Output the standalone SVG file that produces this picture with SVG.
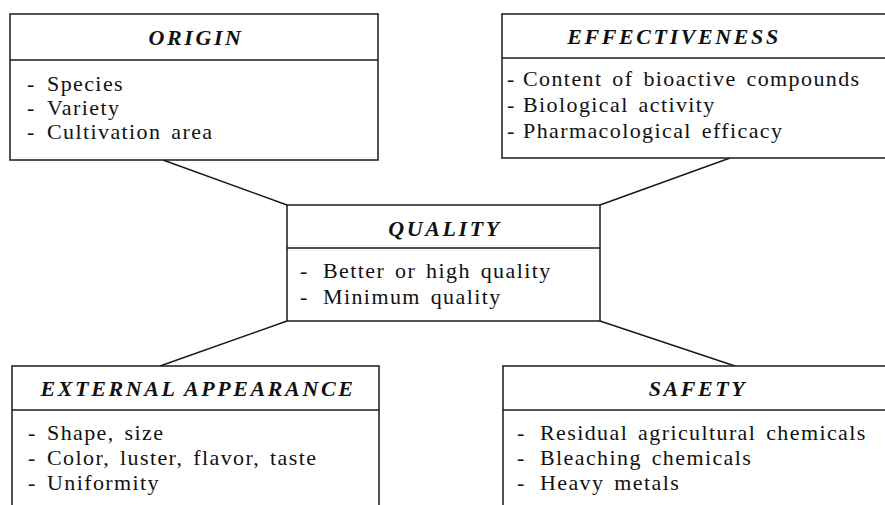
<svg xmlns="http://www.w3.org/2000/svg" width="885" height="505" viewBox="0 0 885 505">
<style>
.box{fill:#fff;stroke:#1a1a1a;stroke-width:1.5}
.sep{stroke:#1a1a1a;stroke-width:1.5}
.con{stroke:#1a1a1a;stroke-width:1.5;fill:none}
.title{font-family:"Liberation Serif","DejaVu Serif",serif;font-size:22px;font-weight:bold;font-style:italic;letter-spacing:2.6px;fill:#111;text-anchor:middle}
.item{font-family:"Liberation Serif","DejaVu Serif",serif;font-size:22px;letter-spacing:1.4px;word-spacing:3px;fill:#111}
</style>
<rect width="885" height="505" fill="#fff"/>
<g id="connectors">
<line class="con" x1="163" y1="160" x2="287" y2="205"/>
<line class="con" x1="730" y1="158" x2="600" y2="205"/>
<line class="con" x1="287" y1="321" x2="160" y2="366"/>
<line class="con" x1="600" y1="321" x2="735" y2="366"/>
</g>
<g id="origin">
<rect class="box" x="10" y="14" width="368" height="146"/>
<line class="sep" x1="10" y1="60" x2="378" y2="60"/>
<text class="title" x="196" y="45">ORIGIN</text>
<text class="item" y="91"><tspan x="27">-</tspan><tspan x="47">Species</tspan></text>
<text class="item" y="115"><tspan x="27">-</tspan><tspan x="47">Variety</tspan></text>
<text class="item" y="139"><tspan x="27">-</tspan><tspan x="47">Cultivation area</tspan></text>
</g>
<g id="effectiveness">
<rect class="box" x="502" y="14" width="390" height="144"/>
<line class="sep" x1="502" y1="58" x2="892" y2="58"/>
<text class="title" x="674" y="44">EFFECTIVENESS</text>
<text class="item" y="86"><tspan x="507">-</tspan><tspan x="523">Content of bioactive compounds</tspan></text>
<text class="item" y="112"><tspan x="507">-</tspan><tspan x="523">Biological activity</tspan></text>
<text class="item" y="138"><tspan x="507">-</tspan><tspan x="523">Pharmacological efficacy</tspan></text>
</g>
<g id="quality">
<rect class="box" x="287" y="205" width="313" height="116"/>
<line class="sep" x1="287" y1="248" x2="600" y2="248"/>
<text class="title" x="445" y="236">QUALITY</text>
<text class="item" y="278"><tspan x="300">-</tspan><tspan x="323">Better or high quality</tspan></text>
<text class="item" y="304"><tspan x="300">-</tspan><tspan x="323">Minimum quality</tspan></text>
</g>
<g id="external-appearance">
<rect class="box" x="12" y="366" width="367" height="160"/>
<line class="sep" x1="12" y1="410" x2="379" y2="410"/>
<text class="title" x="198" y="396">EXTERNAL APPEARANCE</text>
<text class="item" y="440"><tspan x="28">-</tspan><tspan x="47">Shape, size</tspan></text>
<text class="item" y="465"><tspan x="28">-</tspan><tspan x="47">Color, luster, flavor, taste</tspan></text>
<text class="item" y="490"><tspan x="28">-</tspan><tspan x="47">Uniformity</tspan></text>
</g>
<g id="safety">
<rect class="box" x="503" y="366" width="390" height="160"/>
<line class="sep" x1="503" y1="410" x2="893" y2="410"/>
<text class="title" x="698" y="396">SAFETY</text>
<text class="item" y="440"><tspan x="517">-</tspan><tspan x="540">Residual agricultural chemicals</tspan></text>
<text class="item" y="465"><tspan x="517">-</tspan><tspan x="540">Bleaching chemicals</tspan></text>
<text class="item" y="490"><tspan x="517">-</tspan><tspan x="540">Heavy metals</tspan></text>
</g>
</svg>
